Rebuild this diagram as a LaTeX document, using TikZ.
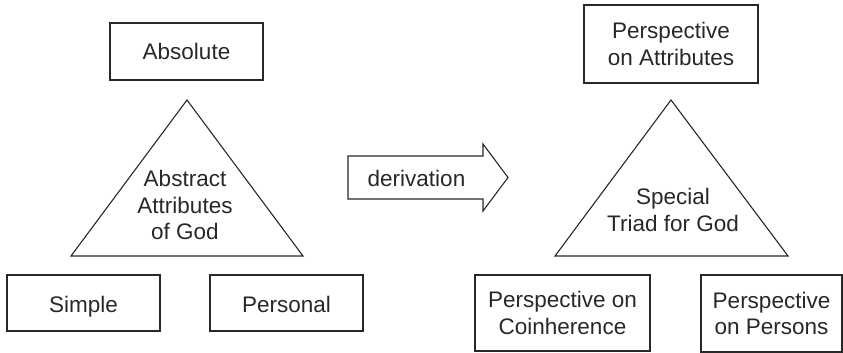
\documentclass[tikz,border=0pt]{standalone}
\usepackage{fontspec}
\setmainfont{Liberation Sans}
\definecolor{inkgray}{RGB}{40,40,40}

\begin{document}
\begin{tikzpicture}[x=1pt,y=-1pt,line width=1.1pt,
    font=\fontsize{22.5}{26.7}\selectfont,
    termbox/.style={draw=inkgray,text=inkgray,rectangle,align=center,inner sep=2pt},
    label/.style={text=inkgray,align=center,inner sep=0pt}]
  \useasboundingbox (0,0) rectangle (843,353);

  % ===== LEFT triad: abstract attributes =====
  \draw[inkgray] (187,100) -- (303,256) -- (71,256) -- cycle;
  \node[label] (abstract) at (185,205) {Abstract\\Attributes\\of God};
  \node[termbox,minimum width=153,minimum height=57] (absolute) at (186.5,51.5) {Absolute};
  \node[termbox,minimum width=153,minimum height=56,text height=21pt,text depth=2pt] (simple) at (83.5,303) {Simple};
  \node[termbox,minimum width=153,minimum height=56,text height=21pt,text depth=2pt] (personal) at (286.5,303) {Personal};

  % ===== block arrow =====
  \draw[inkgray] (348,156) -- (483,156) -- (483,144) -- (508,177.5)
    -- (483,211) -- (483,199) -- (348,199) -- cycle;
  \node[label] (derive) at (416.5,178) {derivation};

  % ===== RIGHT triad: special triad =====
  \draw[inkgray] (671,100) -- (788,256) -- (555,256) -- cycle;
  \node[label] (special) at (673,210) {Special\\Triad for God};
  \node[termbox,minimum width=174,minimum height=78] (onattr) at (671,44) {Perspective\\on Attributes};
  \node[termbox,minimum width=175,minimum height=76] (oncoin) at (562.5,313) {Perspective on\\Coinherence};
  \node[termbox,minimum width=141,minimum height=77] (onpers) at (771.5,313.5) {Perspective\\on Persons};
\end{tikzpicture}
\end{document}
